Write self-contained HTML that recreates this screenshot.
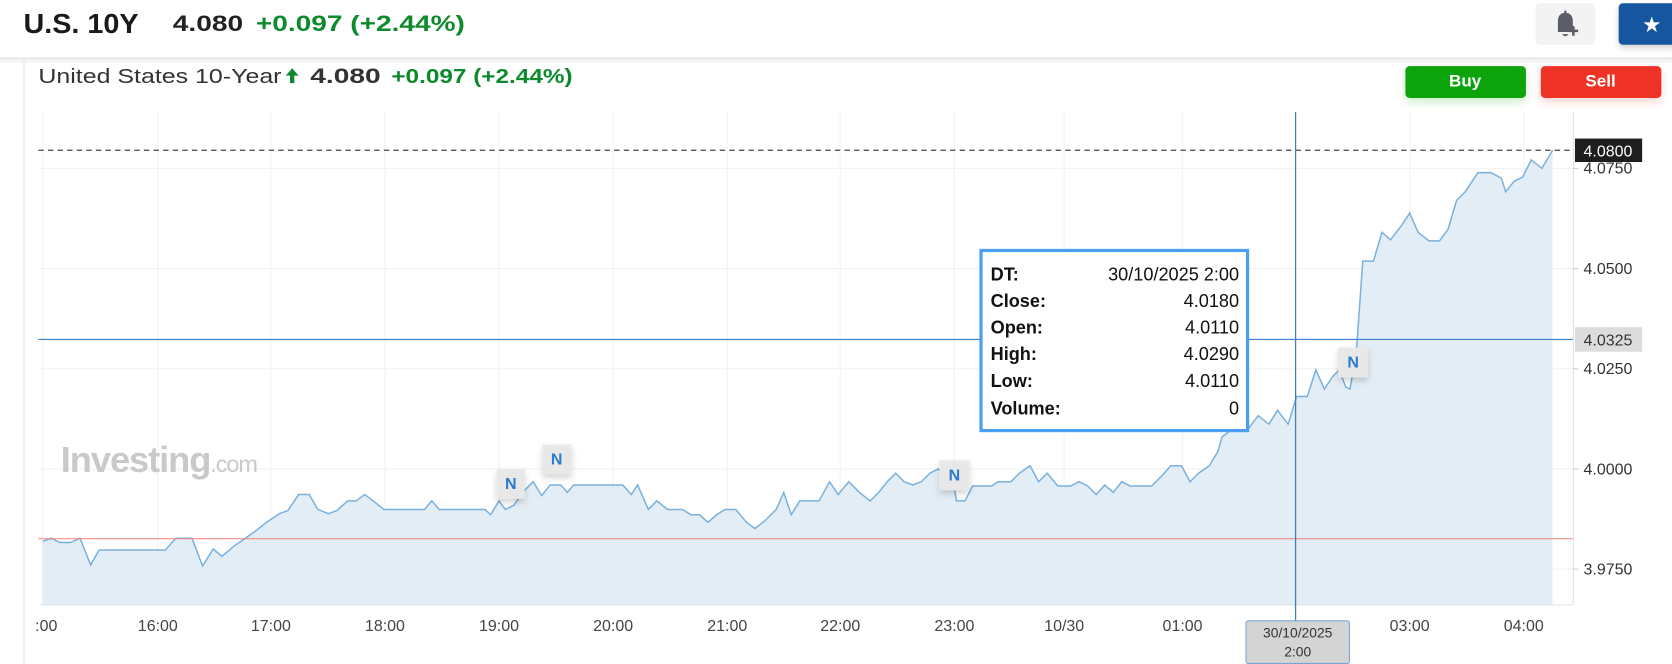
<!DOCTYPE html>
<html><head><meta charset="utf-8"><style>
html,body{margin:0;padding:0;background:#fff;overflow:hidden}
svg{display:block}
text{font-family:"Liberation Sans",Arial,sans-serif}
</style></head><body>
<svg width="1672" height="664" viewBox="0 0 1568 623" preserveAspectRatio="none" xmlns="http://www.w3.org/2000/svg">
<defs>
<filter id="sh" x="-30%" y="-30%" width="160%" height="180%"><feDropShadow dx="0" dy="3" stdDeviation="3" flood-color="#000" flood-opacity="0.18"/></filter>
<filter id="shg" x="-30%" y="-30%" width="160%" height="200%"><feDropShadow dx="0" dy="4" stdDeviation="4" flood-color="#11a30f" flood-opacity="0.2"/></filter>
<filter id="shr" x="-30%" y="-30%" width="160%" height="200%"><feDropShadow dx="0" dy="4" stdDeviation="4" flood-color="#ee3328" flood-opacity="0.2"/></filter>
</defs>
<!-- header -->
<text x="22" y="31" font-size="26" font-weight="bold" fill="#1a1a1a" textLength="108" lengthAdjust="spacingAndGlyphs">U.S. 10Y</text>
<text x="162" y="29" font-size="21" font-weight="bold" fill="#222" textLength="66" lengthAdjust="spacingAndGlyphs">4.080</text>
<text x="240" y="29" font-size="21" font-weight="bold" fill="#0d8a2c" textLength="196" lengthAdjust="spacingAndGlyphs">+0.097 (+2.44%)</text>
<rect x="1440" y="3" width="56" height="39" rx="4" fill="#f3f3f4"/>
<path d="M1461 30 L1461 20 Q1461 13 1467 12 L1467 10 L1469 10 L1469 12 Q1475 13 1475 20 L1475 25 L1478 30 Z M1465 32 L1471 32 Q1468 36 1465 32 Z" fill="#5b5e66"/>
<path d="M1471 29 h9 M1475.5 24.5 v9" stroke="#5b5e66" stroke-width="2.4"/>
<rect x="1518" y="3" width="60" height="39" rx="4" fill="#1256a0" filter="url(#sh)"/>
<text x="1549" y="30" font-size="20" fill="#fff" text-anchor="middle">★</text>
<!-- panel -->
<rect x="0" y="54" width="1568" height="2" fill="#e6e6e6"/>
<rect x="0" y="56" width="1568" height="3" fill="#f6f6f6"/>
<line x1="22.5" y1="56" x2="22.5" y2="623" stroke="#e6e6e6"/>
<text x="36" y="78" font-size="19" fill="#333" textLength="228" lengthAdjust="spacingAndGlyphs">United States 10-Year</text>
<path d="M272 78 v-7 h-4 l6 -7 l6 7 h-4 v7 z" fill="#0d8a2c"/>
<text x="291" y="78" font-size="20" font-weight="bold" fill="#333" textLength="66" lengthAdjust="spacingAndGlyphs">4.080</text>
<text x="367" y="78" font-size="19" font-weight="bold" fill="#0d8a2c" textLength="170" lengthAdjust="spacingAndGlyphs">+0.097 (+2.44%)</text>
<rect x="1318" y="62" width="113" height="30" rx="4" fill="#11a30f" filter="url(#shg)"/>
<text x="1374" y="81" font-size="16" font-weight="bold" fill="#fff" text-anchor="middle">Buy</text>
<rect x="1445" y="62" width="113" height="30" rx="4" fill="#ee3328" filter="url(#shr)"/>
<text x="1501" y="81" font-size="16" font-weight="bold" fill="#fff" text-anchor="middle">Sell</text>
<!-- grid -->
<g stroke="#f1f1f1" stroke-width="1">
<line x1="38" y1="158" x2="1475" y2="158"/><line x1="38" y1="252" x2="1475" y2="252"/><line x1="38" y1="346" x2="1475" y2="346"/><line x1="38" y1="440" x2="1475" y2="440"/><line x1="38" y1="534" x2="1475" y2="534"/>
<line x1="40" y1="105" x2="40" y2="567"/><line x1="148" y1="105" x2="148" y2="567"/><line x1="254" y1="105" x2="254" y2="567"/><line x1="361" y1="105" x2="361" y2="567"/><line x1="468" y1="105" x2="468" y2="567"/><line x1="575" y1="105" x2="575" y2="567"/><line x1="682" y1="105" x2="682" y2="567"/><line x1="788" y1="105" x2="788" y2="567"/><line x1="895" y1="105" x2="895" y2="567"/><line x1="998" y1="105" x2="998" y2="567"/><line x1="1109" y1="105" x2="1109" y2="567"/><line x1="1322" y1="105" x2="1322" y2="567"/><line x1="1429" y1="105" x2="1429" y2="567"/>
</g>
<line x1="1475.5" y1="105" x2="1475.5" y2="567" stroke="#e0e0e0"/>
<line x1="38" y1="567.5" x2="1475" y2="567.5" stroke="#e0e0e0"/>
<!-- watermark -->
<text x="57" y="443" font-size="34" font-weight="bold" fill="#c9c9c9" letter-spacing="-1">Investing<tspan font-size="22" font-weight="normal">.com</tspan></text>
<!-- series -->
<polygon fill="#e3edf5" points="40,567 40,508 48,505 56,509 66,509 75,505 85,530 93,516 155,516 165,505 180,505 190,531 200,515 208,522 220,512 230,505 240,498 250,490 262,482 270,479 280,464 290,464 298,478 308,482 316,479 326,470 334,470 342,464 350,470 360,478 398,478 405,470 412,478 455,478 460,483 468,470 474,478 482,474 490,462 500,452 508,465 516,455 526,455 532,462 538,455 584,455 592,464 598,455 608,478 616,470 626,478 640,478 648,483 656,483 664,490 672,483 680,478 690,478 700,490 708,496 718,488 728,478 735,462 742,483 750,470 768,470 778,452 786,464 796,452 806,462 816,470 824,462 832,452 840,444 848,452 856,455 864,452 872,444 880,440 886,446 892,440 897,470 905,470 912,456 930,456 936,452 948,452 956,444 966,437 974,452 982,444 992,456 1004,456 1012,452 1020,456 1028,464 1036,455 1044,462 1052,452 1060,456 1080,456 1090,446 1098,437 1108,437 1116,452 1124,444 1134,437 1142,424 1146,410 1155,403 1170,403 1180,390 1190,398 1198,385 1208,398 1216,372 1226,372 1234,347 1242,365 1250,353 1256,347 1262,363 1266,365 1272,330 1278,245 1288,245 1296,218 1304,225 1314,212 1322,200 1330,218 1340,226 1350,226 1358,215 1366,188 1374,180 1386,162 1398,162 1408,167 1412,180 1420,170 1428,166 1436,150 1446,158 1456,141 1456,567"/>
<polyline fill="none" stroke="#7ab0dd" stroke-width="1.4" points="40,508 48,505 56,509 66,509 75,505 85,530 93,516 155,516 165,505 180,505 190,531 200,515 208,522 220,512 230,505 240,498 250,490 262,482 270,479 280,464 290,464 298,478 308,482 316,479 326,470 334,470 342,464 350,470 360,478 398,478 405,470 412,478 455,478 460,483 468,470 474,478 482,474 490,462 500,452 508,465 516,455 526,455 532,462 538,455 584,455 592,464 598,455 608,478 616,470 626,478 640,478 648,483 656,483 664,490 672,483 680,478 690,478 700,490 708,496 718,488 728,478 735,462 742,483 750,470 768,470 778,452 786,464 796,452 806,462 816,470 824,462 832,452 840,444 848,452 856,455 864,452 872,444 880,440 886,446 892,440 897,470 905,470 912,456 930,456 936,452 948,452 956,444 966,437 974,452 982,444 992,456 1004,456 1012,452 1020,456 1028,464 1036,455 1044,462 1052,452 1060,456 1080,456 1090,446 1098,437 1108,437 1116,452 1124,444 1134,437 1142,424 1146,410 1155,403 1170,403 1180,390 1190,398 1198,385 1208,398 1216,372 1226,372 1234,347 1242,365 1250,353 1256,347 1262,363 1266,365 1272,330 1278,245 1288,245 1296,218 1304,225 1314,212 1322,200 1330,218 1340,226 1350,226 1358,215 1366,188 1374,180 1386,162 1398,162 1408,167 1412,180 1420,170 1428,166 1436,150 1446,158 1456,141"/>
<!-- lines -->
<line x1="36" y1="505.5" x2="1475" y2="505.5" stroke="#f08080" stroke-width="1"/>
<line x1="36" y1="141" x2="1475" y2="141" stroke="#444" stroke-width="1.2" stroke-dasharray="5,4"/>
<line x1="36" y1="318.5" x2="1475" y2="318.5" stroke="#3b7fc4" stroke-width="1"/>
<line x1="1215" y1="105" x2="1215" y2="620" stroke="#3b7fc4" stroke-width="1.2"/>
<!-- N markers -->
<g font-size="15" font-weight="bold" fill="#2a7bd0" text-anchor="middle">
<rect x="466" y="440" width="26" height="28" fill="#e8e8e8" filter="url(#sh)"/><text x="479" y="459">N</text>
<rect x="509" y="417" width="27" height="28" fill="#e8e8e8" filter="url(#sh)"/><text x="522" y="436">N</text>
<rect x="881" y="432" width="28" height="28" fill="#e8e8e8" filter="url(#sh)"/><text x="895" y="451">N</text>
<rect x="1255" y="326" width="28" height="28" fill="#e8e8e8" filter="url(#sh)"/><text x="1269" y="345">N</text>
</g>
<!-- y labels -->
<g font-size="15" fill="#333">
<text x="1485" y="163">4.0750</text><text x="1485" y="257">4.0500</text><text x="1485" y="351">4.0250</text><text x="1485" y="445">4.0000</text><text x="1485" y="539">3.9750</text>
</g>
<g stroke="#ccc"><line x1="1475" y1="158" x2="1480" y2="158"/><line x1="1475" y1="252" x2="1480" y2="252"/><line x1="1475" y1="346" x2="1480" y2="346"/><line x1="1475" y1="440" x2="1480" y2="440"/><line x1="1475" y1="534" x2="1480" y2="534"/></g>
<rect x="1477" y="130" width="63" height="22" fill="#1e1e1e"/>
<text x="1485" y="147" font-size="15" fill="#fff">4.0800</text>
<rect x="1477" y="307" width="63" height="23" fill="#dcdcdc"/>
<text x="1485" y="324" font-size="15" fill="#333">4.0325</text>
<!-- x labels -->
<g font-size="15" fill="#444" text-anchor="middle">
<text x="148" y="592">16:00</text><text x="254" y="592">17:00</text><text x="361" y="592">18:00</text><text x="468" y="592">19:00</text><text x="575" y="592">20:00</text><text x="682" y="592">21:00</text><text x="788" y="592">22:00</text><text x="895" y="592">23:00</text><text x="998" y="592">10/30</text><text x="1109" y="592">01:00</text><text x="1322" y="592">03:00</text><text x="1429" y="592">04:00</text>
</g>
<text x="33" y="592" font-size="15" fill="#444">:00</text>
<rect x="1168.5" y="582.5" width="97" height="40" rx="2" fill="#d4d4d4" stroke="#7aa6d6"/>
<text x="1217" y="598" font-size="13" fill="#333" text-anchor="middle">30/10/2025</text>
<text x="1217" y="616" font-size="13" fill="#333" text-anchor="middle">2:00</text>
<!-- tooltip -->
<rect x="920" y="235" width="250" height="169" fill="#fff" stroke="#4a9ff5" stroke-width="3"/>
<g font-size="17" fill="#111">
<g font-weight="bold"><text x="929" y="263">DT:</text><text x="929" y="288">Close:</text><text x="929" y="313">Open:</text><text x="929" y="338">High:</text><text x="929" y="363">Low:</text><text x="929" y="389">Volume:</text></g>
<g text-anchor="end"><text x="1162" y="263">30/10/2025 2:00</text><text x="1162" y="288">4.0180</text><text x="1162" y="313">4.0110</text><text x="1162" y="338">4.0290</text><text x="1162" y="363">4.0110</text><text x="1162" y="389">0</text></g>
</g>
</svg>
</body></html>
